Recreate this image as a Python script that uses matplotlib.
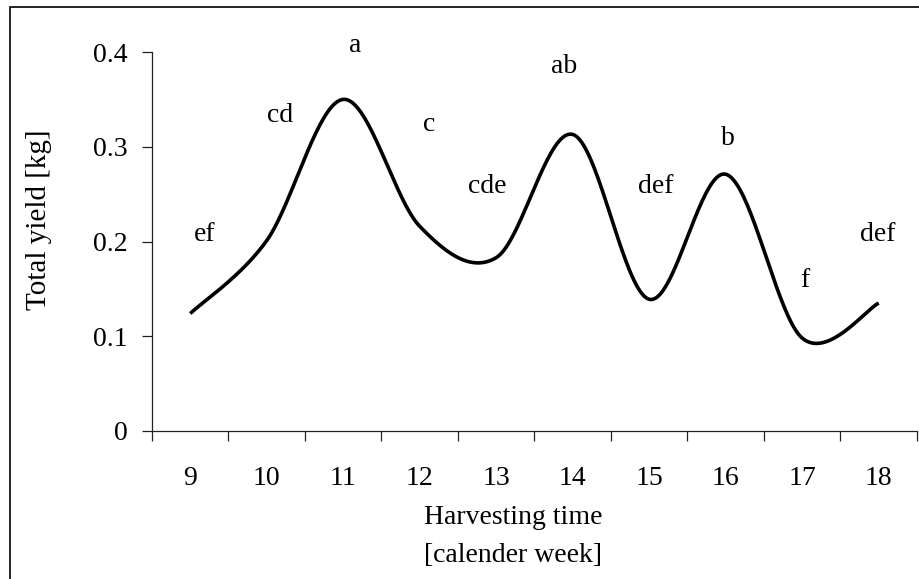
import numpy as np
import matplotlib
matplotlib.use("Agg")
import matplotlib.pyplot as plt
from matplotlib.patches import Rectangle
from matplotlib.ticker import FixedLocator, FuncFormatter

# Harvest data: total yield per calendar week
weeks = ["9", "10", "11", "12", "13", "14", "15", "16", "17", "18"]
total_yield = [0.124, 0.201, 0.350, 0.216, 0.183, 0.313, 0.139, 0.271, 0.098, 0.135]
letters = ["ef", "cd", "a", "c", "cde", "ab", "def", "b", "f", "def"]

# letter label anchors (x in category units, y baseline in kg)
letter_x = [0.69, 1.67, 2.65, 3.62, 4.38, 5.39, 6.58, 7.53, 8.54, 9.49]
letter_y = [0.201, 0.326, 0.400, 0.317, 0.251, 0.378, 0.251, 0.302, 0.152, 0.201]

W, H = 920, 579
plt.rcParams["font.family"] = ["Liberation Serif", "DejaVu Serif"]
FS = 20

fig = plt.figure(figsize=(W / 100, H / 100), dpi=100)
L, R, T, B = 152, 917, 52, 431
ax = fig.add_axes([L / W, 1 - B / H, (R - L) / W, (B - T) / H])


def smooth_line(xs, ys, n=40):
    """Catmull-Rom style cubic Bezier through every point (spreadsheet smoothing)."""
    xs = np.asarray(xs, float)
    ys = np.asarray(ys, float)
    pts = np.column_stack([xs, ys])
    out = []
    for i in range(len(pts) - 1):
        p0 = pts[i - 1] if i > 0 else pts[i]
        p1 = pts[i]
        p2 = pts[i + 1]
        p3 = pts[i + 2] if i + 2 < len(pts) else pts[i + 1]
        c1 = p1 + (p2 - p0) / 6.0
        c2 = p2 - (p3 - p1) / 6.0
        t = np.linspace(0, 1, n)[:, None]
        seg = ((1 - t) ** 3) * p1 + 3 * ((1 - t) ** 2) * t * c1 + 3 * (1 - t) * t ** 2 * c2 + t ** 3 * p2
        out.append(seg if i == 0 else seg[1:])
    seg = np.vstack(out)
    return seg[:, 0], seg[:, 1]


xpos = np.arange(len(weeks)) + 0.5
sx, sy = smooth_line(xpos, total_yield)
ax.plot(sx, sy, color="black", lw=2.6, solid_joinstyle="round", solid_capstyle="butt")

ax.set_xlim(0, len(weeks))
ax.set_ylim(0, 0.4)

for sp in ("top", "right"):
    ax.spines[sp].set_visible(False)
for sp in ("left", "bottom"):
    ax.spines[sp].set_linewidth(0.9)
    ax.spines[sp].set_color("#222222")

ax.yaxis.set_major_locator(FixedLocator([0, 0.1, 0.2, 0.3, 0.4]))
ax.yaxis.set_major_formatter(FuncFormatter(lambda v, p: "0" if abs(v) < 1e-9 else f"{v:.1f}"))
ax.tick_params(axis="y", which="major", direction="out", length=7.5, width=0.9,
               color="#222222", labelsize=FS, pad=10)

ax.xaxis.set_major_locator(FixedLocator(np.arange(len(weeks) + 1)))
ax.xaxis.set_major_formatter(FuncFormatter(lambda v, p: ""))
ax.xaxis.set_minor_locator(FixedLocator(xpos))
ax.set_xticklabels(weeks, minor=True)
ax.tick_params(axis="x", which="major", direction="out", length=7, width=0.9, color="#222222")
ax.tick_params(axis="x", which="minor", length=0, labelsize=FS, pad=25)

for lx, ly, txt in zip(letter_x, letter_y, letters):
    ax.text(lx, ly, txt, fontsize=FS, ha="center", va="baseline", clip_on=False)

# axis titles
fig.text(513 / W, 1 - 524 / H, "Harvesting time", fontsize=FS, ha="center", va="baseline")
fig.text(513 / W, 1 - 562 / H, "[calender week]", fontsize=FS, ha="center", va="baseline")
fig.text(39 / W, 1 - 220 / H, "Total yield [kg]", fontsize=FS + 1, ha="center", va="center",
         rotation=90)

# chart frame
fig.add_artist(Rectangle((10.5 / W, -0.5), 2.0, (1 - 6.5 / H) + 0.5, transform=fig.transFigure,
                         fill=False, edgecolor="black", lw=1.2, clip_on=False))

fig.savefig("out.png", dpi=100, facecolor="white")
